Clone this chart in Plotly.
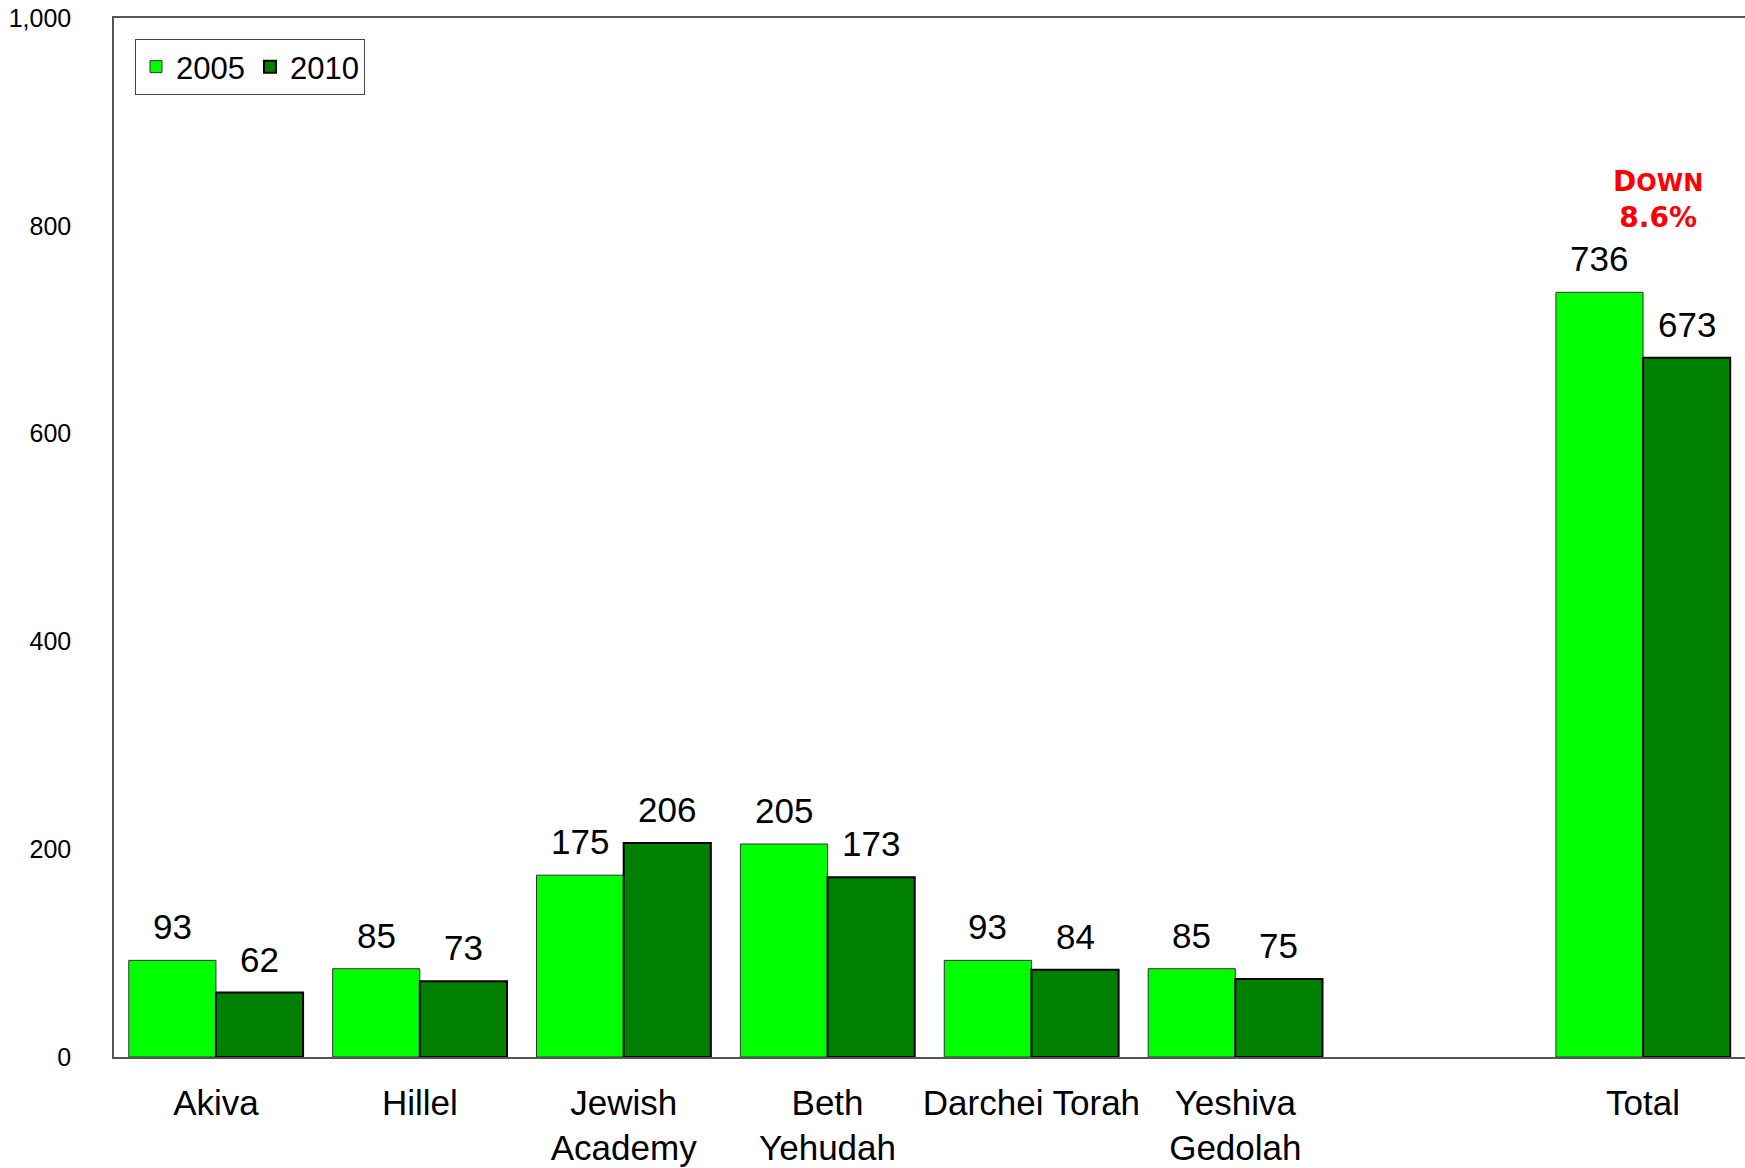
import plotly.graph_objects as go

categories = ["Akiva", "Hillel", "Jewish<br>Academy", "Beth<br>Yehudah", "Darchei Torah",
              "Yeshiva<br>Gedolah", " ", "Total"]
values_2005 = [93, 85, 175, 205, 93, 85, None, 736]
values_2010 = [62, 73, 206, 173, 84, 75, None, 673]
series_names = ["2005", "2010"]
y_ticks = [0, 200, 400, 600, 800, 1000]

W, H = 1745, 1168
ML, MR, MT, MB = 114, 0, 18, H - 1057
BARGAP = 0.145

fig = go.Figure()
fig.add_trace(go.Bar(name=series_names[0], x=categories, y=values_2005,
                     marker=dict(color="#00FF00", line=dict(color="#333333", width=1))))
fig.add_trace(go.Bar(name=series_names[1], x=categories, y=values_2010,
                     marker=dict(color="#008000", line=dict(color="#000000", width=2))))

plot_w = W - ML - MR
plot_h = H - MT - MB
bar_px = plot_w / len(categories) * (1 - BARGAP) / 2
annotations = []
for vals, sh in ((values_2005, -bar_px / 2), (values_2010, bar_px / 2)):
    for c, v in zip(categories, vals):
        if v is None:
            continue
        annotations.append(dict(x=c, y=v, xref="x", yref="y", text=str(v), showarrow=False,
                                xshift=sh, yshift=12, yanchor="bottom",
                                font=dict(family="Liberation Sans, Arial", size=35, color="#000")))

annotations.append(dict(x="Total", xref="x", y=0.79, yref="paper", xshift=15, showarrow=False,
                        yanchor="bottom",
                        text="<b>D<span style='font-size:24px'>OWN</span><br>8.6%</b>",
                        font=dict(family="DejaVu Sans", size=28, color="#FF0000")))

fig.update_layout(
    width=W, height=H,
    margin=dict(l=ML, r=MR, t=MT, b=MB, autoexpand=False),
    paper_bgcolor="white", plot_bgcolor="white",
    barmode="group", bargap=BARGAP, bargroupgap=0,
    font=dict(family="Liberation Sans, Arial", color="#000"),
    legend=dict(orientation="h", x=(135 - ML) / plot_w, y=(1057 - 39) / plot_h,
                xanchor="left", yanchor="top", bgcolor="white",
                bordercolor="#444", borderwidth=1, font=dict(size=31)),
    annotations=annotations,
    xaxis=dict(showline=True, mirror=True, linecolor="#555", linewidth=1.5,
               showgrid=False, ticks="", tickfont=dict(size=35), ticklabelstandoff=14,
               automargin=False, range=[-0.5, len(categories) - 0.5]),
    yaxis=dict(range=[0, 1000], tickvals=y_ticks, tickformat=",", showline=True,
               linecolor="#555", linewidth=1.5, showgrid=False, zeroline=False, ticks="",
               automargin=False, tickfont=dict(size=25), ticklabelstandoff=36,
               ticklabeloverflow="allow"),
)

fig.write_html("out.html", config={"displayModeBar": False},
               post_script="document.body.style.margin='0';document.body.style.overflow='hidden';")
